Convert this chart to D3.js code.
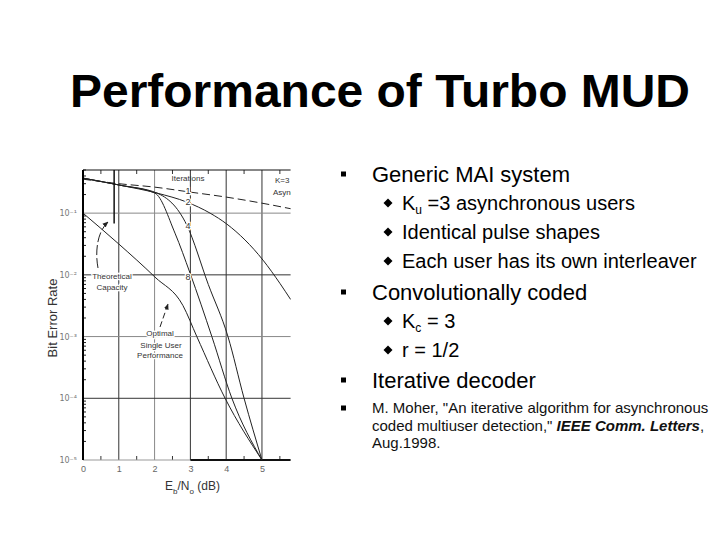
<!DOCTYPE html>
<html>
<head>
<meta charset="utf-8">
<script src="https://cdn.jsdelivr.net/npm/d3@7"></script>
<style>
  body { margin: 0; background: #fff; }
  svg { display: block; font-family: "Liberation Sans", Arial, sans-serif; }
</style>
</head>
<body>
<div id="chart"></div>
<script>
// curve readings (Eb/No in dB, bit error rate)
const iter1DB  = [0, 1, 2, 3, 4, 5, 5.8];
const iter1BER = [0.355, 0.30, 0.264, 0.219, 0.182, 0.145, 0.118];

const iter2DB  = [0, 1.03, 2.07, 2.9, 3.55, 4.02, 5.03, 5.5, 5.8];
const iter2BER = [0.369, 0.284, 0.211, 0.151, 0.1, 0.0664, 0.0173, 0.0073, 0.004];

const iter4DB  = [0, 1.03, 2.07, 2.9, 3.5, 4.05, 4.5, 5.0];
const iter4BER = [0.369, 0.284, 0.211, 0.064, 0.007, 1e-3, 1e-4, 1e-5];

const iter8DB  = [0, 1.03, 2.01, 2.57, 2.99, 3.6, 4.16, 5.0];
const iter8BER = [0.369, 0.284, 0.211, 0.0474, 0.0107, 1e-3, 1e-4, 1e-5];

const optimalDB  = [0, 1, 2.01, 2.79, 3.18, 3.97, 5.0];
const optimalBER = [0.1, 0.0316, 0.0092, 0.0032, 1e-3, 1e-4, 1e-5];

const capacityDB = 0.87;
const capacityBER = [0.5, 0.068];

const xTicks = [0, 1, 2, 3, 4, 5];
const yTicks = [1e-1, 1e-2, 1e-3, 1e-4, 1e-5];
const yTickLabels = ["10⁻¹", "10⁻²", "10⁻³", "10⁻⁴", "10⁻⁵"];
const iterLabels = ["1", "2", "4", "8"];

const title = "Performance of Turbo MUD";
const mainBullets = ["Generic MAI system", "Convolutionally coded", "Iterative decoder"];
const maiBullets = [["K", "u", " =3 asynchronous users"], ["Identical pulse shapes"], ["Each user has its own interleaver"]];
const codeBullets = [["K", "c", " = 3"], ["r = 1/2"]];
const citation = ["M. Moher, \"An iterative algorithm for asynchronous",
                  "coded multiuser detection,\" ", "IEEE Comm. Letters", ",", "Aug.1998."];

const width = 720, height = 540;

const svg = d3.select("#chart").append("svg")
  .attr("width", width)
  .attr("height", height);

svg.append("rect").attr("width", width).attr("height", height).attr("fill", "#fff");

const x = d3.scaleLinear().domain([0, 5.8]).range([83, 290.6]);
const y = d3.scaleLog().domain([1e-5, 0.5]).range([460, 170]);

const defs = svg.append("defs");
defs.append("clipPath").attr("id", "plotclip")
  .append("rect").attr("x", 82).attr("y", 168).attr("width", 209).attr("height", 294);
defs.append("marker")
  .attr("id", "arrow").attr("viewBox", "0 0 10 10")
  .attr("refX", 9).attr("refY", 5)
  .attr("markerWidth", 6).attr("markerHeight", 6)
  .attr("orient", "auto")
  .append("path").attr("d", "M0,1 L10,5 L0,9 z").attr("fill", "#222");

// title
svg.append("text")
  .attr("x", 70).attr("y", 107)
  .attr("font-size", 46).attr("font-weight", "bold")
  .attr("textLength", 620).attr("lengthAdjust", "spacingAndGlyphs")
  .text(title);

// ---- scanned plot ----
const plot = svg.append("g").attr("clip-path", "url(#plotclip)");

// grid
plot.append("g").selectAll("line")
  .data(xTicks.slice(1))
  .join("line")
    .attr("x1", d => x(d)).attr("x2", d => x(d))
    .attr("y1", y(0.5)).attr("y2", y(1e-5))
    .attr("stroke", (d, i) => i === 1 ? "#888" : "#333")
    .attr("stroke-width", 1);

plot.append("g").selectAll("line")
  .data(yTicks.slice(0, 4))
  .join("line")
    .attr("x1", x(0)).attr("x2", x(5.8))
    .attr("y1", d => y(d)).attr("y2", d => y(d))
    .attr("stroke", (d, i) => i % 2 === 0 ? "#888" : "#333")
    .attr("stroke-width", 1);

// half-dB ticks top and bottom
const halfTicks = d3.range(0.5, 5.8, 1);
plot.append("g").selectAll("line")
  .data(halfTicks)
  .join("line")
    .attr("x1", d => x(d)).attr("x2", d => x(d))
    .attr("y1", y(0.5)).attr("y2", y(0.5) + 4)
    .attr("stroke", "#333");
plot.append("g").selectAll("line")
  .data(halfTicks)
  .join("line")
    .attr("x1", d => x(d)).attr("x2", d => x(d))
    .attr("y1", y(1e-5)).attr("y2", y(1e-5) - 4)
    .attr("stroke", "#333");

// minor log ticks on left axis
const minor = [];
for (let e = -5; e < 0; e++) for (let m = 2; m <= 9; m++) if (m * Math.pow(10, e) <= 0.5) minor.push(m * Math.pow(10, e));
plot.append("g").selectAll("line")
  .data(minor)
  .join("line")
    .attr("x1", x(0)).attr("x2", x(0) + 3)
    .attr("y1", d => y(d)).attr("y2", d => y(d))
    .attr("stroke", "#222");

// frame
plot.append("line").attr("x1", x(0)).attr("x2", x(5.8)).attr("y1", y(0.5)).attr("y2", y(0.5))
  .attr("stroke", "#111");
plot.append("line").attr("x1", x(0)).attr("x2", x(3)).attr("y1", y(1e-5)).attr("y2", y(1e-5))
  .attr("stroke", "#999");
plot.append("line").attr("x1", x(3)).attr("x2", x(5.8)).attr("y1", y(1e-5)).attr("y2", y(1e-5))
  .attr("stroke", "#111").attr("stroke-width", 2);
svg.append("line").attr("x1", x(0)).attr("x2", x(0)).attr("y1", y(0.5)).attr("y2", y(1e-5))
  .attr("stroke", "#000").attr("stroke-width", 2);

// curves
const zip = (a, b) => a.map((d, i) => [d, b[i]]);
const line = d3.line()
  .x(d => x(d[0]))
  .y(d => y(d[1]))
  .curve(d3.curveMonotoneX);

const curves = [
  { pts: zip(iter1DB, iter1BER), dash: "8,4" },
  { pts: zip(iter2DB, iter2BER), dash: null },
  { pts: zip(iter4DB, iter4BER), dash: null },
  { pts: zip(iter8DB, iter8BER), dash: null },
  { pts: zip(optimalDB, optimalBER), dash: null }
];

plot.append("g").selectAll("path")
  .data(curves)
  .join("path")
    .attr("d", d => line(d.pts))
    .attr("fill", "none")
    .attr("stroke", "#222")
    .attr("stroke-width", 1)
    .attr("stroke-dasharray", d => d.dash);

// theoretical capacity marker
plot.append("line")
  .attr("x1", x(capacityDB)).attr("x2", x(capacityDB))
  .attr("y1", y(capacityBER[0])).attr("y2", y(capacityBER[1]))
  .attr("stroke", "#111").attr("stroke-width", 1.5);

// annotations
const ann = plot.append("g")
  .attr("font-size", 8).attr("fill", "#333")
  .attr("text-anchor", "middle");

ann.append("text").attr("x", 188).attr("y", 181).text("Iterations");
ann.selectAll("text.it")
  .data(iterLabels)
  .join("text")
    .attr("class", "it")
    .attr("x", 188)
    .attr("y", (d, i) => [194, 205, 229, 280][i])
    .attr("font-size", 9)
    .attr("stroke", "#fff").attr("stroke-width", 2.5).attr("paint-order", "stroke")
    .text(d => d);

ann.append("text").attr("x", 275).attr("y", 183).attr("text-anchor", "start").text("K=3");
ann.append("text").attr("x", 273).attr("y", 195).attr("text-anchor", "start").text("Async");

ann.append("text").attr("x", 112).attr("y", 279)
  .attr("stroke", "#fff").attr("stroke-width", 2.5).attr("paint-order", "stroke").text("Theoretical");
ann.append("text").attr("x", 112).attr("y", 290)
  .attr("stroke", "#fff").attr("stroke-width", 2.5).attr("paint-order", "stroke").text("Capacity");

ann.append("text").attr("x", 160).attr("y", 336)
  .attr("stroke", "#fff").attr("stroke-width", 2.5).attr("paint-order", "stroke").text("Optimal");
ann.append("text").attr("x", 161).attr("y", 348)
  .attr("stroke", "#fff").attr("stroke-width", 2.5).attr("paint-order", "stroke").text("Single User");
ann.append("text").attr("x", 160).attr("y", 358)
  .attr("stroke", "#fff").attr("stroke-width", 2.5).attr("paint-order", "stroke").text("Performance");

plot.append("path")
  .attr("d", "M98,268 C95,252 97,232 108,222")
  .attr("fill", "none").attr("stroke", "#222").attr("stroke-width", 1)
  .attr("stroke-dasharray", "10,3")
  .attr("marker-end", "url(#arrow)");
plot.append("path")
  .attr("d", "M160,327 L168,304")
  .attr("fill", "none").attr("stroke", "#222").attr("stroke-width", 1)
  .attr("stroke-dasharray", "6,3")
  .attr("marker-end", "url(#arrow)");

// axes labels
const yAxis = svg.append("g")
  .attr("transform", `translate(${x(0) - 4},0)`)
  .call(d3.axisLeft(y).tickValues(yTicks).tickSize(0).tickPadding(2)
    .tickFormat((d, i) => yTickLabels[i]));
yAxis.select(".domain").remove();
yAxis.selectAll("text").attr("font-size", 8).attr("fill", "#777")
  .attr("font-family", "'DejaVu Sans', sans-serif");

const xAxis = svg.append("g")
  .attr("transform", `translate(0,${y(1e-5) + 3})`)
  .call(d3.axisBottom(x).tickValues(xTicks).tickSize(0).tickPadding(3).tickFormat(d3.format("d")));
xAxis.select(".domain").remove();
xAxis.selectAll("text").attr("font-size", 9).attr("fill", "#666")
  .attr("font-family", "'Liberation Sans', Arial, sans-serif");

const xl = svg.append("text")
  .attr("x", 165).attr("y", 490)
  .attr("font-size", 12).attr("fill", "#333");
xl.append("tspan").text("E");
xl.append("tspan").attr("font-size", 8).attr("dy", 4).text("b");
xl.append("tspan").attr("dy", -4).text("/N");
xl.append("tspan").attr("font-size", 8).attr("dy", 4).text("o");
xl.append("tspan").attr("dy", -4).text(" (dB)");

svg.append("text")
  .attr("transform", "translate(57,318) rotate(-90)")
  .attr("text-anchor", "middle")
  .attr("font-size", 13).attr("fill", "#333")
  .text("Bit Error Rate");

// ---- bullet list ----
const list = svg.append("g").attr("fill", "#000");

const square = (cy) => list.append("rect")
  .attr("x", 341).attr("y", cy - 2.5).attr("width", 5).attr("height", 5);
const diamond = (cy) => list.append("path")
  .attr("d", `M${388},${cy - 4.5} L${392.5},${cy} L${388},${cy + 4.5} L${383.5},${cy} Z`);

const mainY = [174, 292, 380];
mainBullets.forEach((t, i) => {
  square(mainY[i]);
  list.append("text").attr("x", 372).attr("y", mainY[i] + 8)
    .attr("font-size", 22).text(t);
});

const subText = (parts, cy) => {
  diamond(cy);
  const t = list.append("text").attr("x", 402).attr("y", cy + 7).attr("font-size", 20);
  if (parts.length === 1) { t.text(parts[0]); return; }
  t.append("tspan").text(parts[0]);
  t.append("tspan").attr("font-size", 12).attr("dy", 4).text(parts[1]);
  t.append("tspan").attr("dy", -4).text(parts[2]);
};
[203, 232, 261].forEach((cy, i) => subText(maiBullets[i], cy));
[321, 350].forEach((cy, i) => subText(codeBullets[i], cy));

square(408);
const cite = list.append("g").attr("font-size", 15).attr("fill", "#111");
cite.append("text").attr("x", 372).attr("y", 412.5).text(citation[0]);
const c2 = cite.append("text").attr("x", 372).attr("y", 430.5);
c2.append("tspan").text(citation[1]);
c2.append("tspan").attr("font-weight", "bold").attr("font-style", "italic").text(citation[2]);
c2.append("tspan").text(citation[3]);
cite.append("text").attr("x", 372).attr("y", 448).text(citation[4]);
</script>
</body>
</html>
